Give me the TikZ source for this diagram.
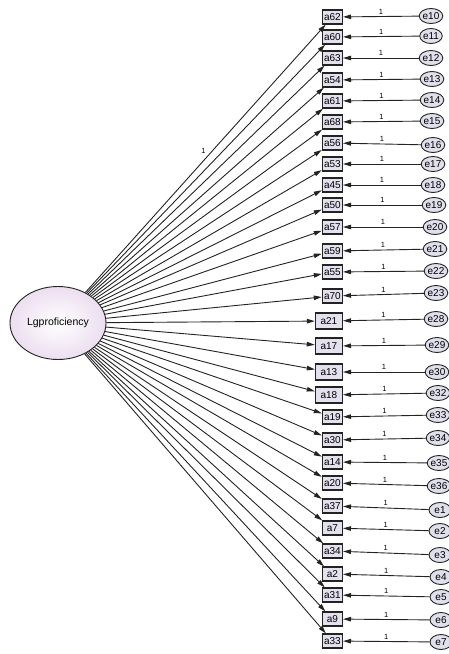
\documentclass[tikz,border=0pt]{standalone}
\usepackage{fontspec}
\setmainfont{Liberation Sans}
\usetikzlibrary{arrows, arrows.meta}
\usetikzlibrary{shapes.geometric}

\definecolor{boxfill}{RGB}{228,224,238}
\definecolor{errfill}{RGB}{224,224,236}
\definecolor{latfill}{RGB}{236,222,240}
\definecolor{linecol}{RGB}{35,35,35}

\tikzset{
  item/.style={rectangle, draw=linecol, line width=1.2pt, fill=boxfill, inner sep=1.5pt,
    minimum width=20pt, minimum height=14pt, anchor=east, font=\fontsize{10}{12}\selectfont},
  wideitem/.style={item, minimum width=27pt, minimum height=16pt},
  err/.style={ellipse, draw=linecol, line width=0.9pt, fill=errfill, inner sep=0pt,
    minimum width=22pt, minimum height=15pt, font=\fontsize{10}{12}\selectfont},
  latent/.style={ellipse, draw=linecol, line width=0.9pt, inner color=white, outer color=latfill,
    minimum width=96pt, minimum height=73pt, inner sep=0pt, font=\fontsize{10.5}{12}\selectfont},
  load/.style={draw=linecol, line width=0.9pt, -{Triangle[length=8pt,width=4.5pt]}},
  lbl/.style={font=\fontsize{7.5}{8}\selectfont, inner sep=2pt}
}

\begin{document}
\begin{tikzpicture}[x=1pt, y=-1pt]
  \useasboundingbox (0,0) rectangle (449,654);

  \node[latent] (L) at (58,323) {Lgproficiency};

  % observed items
  \node[item] (a62) at (343,17) {a62};
  \node[item] (a60) at (343,37) {a60};
  \node[item] (a63) at (343,58) {a63};
  \node[item] (a54) at (343,80) {a54};
  \node[item] (a61) at (343,101) {a61};
  \node[item] (a68) at (343,122) {a68};
  \node[item] (a56) at (343,143) {a56};
  \node[item] (a53) at (343,164) {a53};
  \node[item] (a45) at (343,185) {a45};
  \node[item] (a50) at (343,205) {a50};
  \node[item] (a57) at (343,227) {a57};
  \node[item] (a59) at (343,251) {a59};
  \node[item] (a55) at (343,272) {a55};
  \node[item] (a70) at (343,296) {a70};
  \node[wideitem] (a21) at (343,321) {a21};
  \node[wideitem] (a17) at (343,346) {a17};
  \node[wideitem] (a13) at (343,372) {a13};
  \node[wideitem] (a18) at (343,395) {a18};
  \node[item] (a19) at (343,417) {a19};
  \node[item] (a30) at (343,440) {a30};
  \node[item] (a14) at (343,462) {a14};
  \node[item] (a20) at (343,483) {a20};
  \node[item] (a37) at (343,506) {a37};
  \node[item] (a7) at (343,528) {a7};
  \node[item] (a34) at (343,551) {a34};
  \node[item] (a2) at (343,574) {a2};
  \node[item] (a31) at (343,595) {a31};
  \node[item] (a9) at (343,619) {a9};
  \node[item] (a33) at (343,641) {a33};

  % error terms
  \node[err] (e10) at (431,16) {e10};
  \node[err] (e11) at (431,36) {e11};
  \node[err] (e12) at (431,58) {e12};
  \node[err] (e13) at (432,79) {e13};
  \node[err] (e14) at (432,100) {e14};
  \node[err] (e15) at (432,121) {e15};
  \node[err] (e16) at (433,145) {e16};
  \node[err] (e17) at (433,164) {e17};
  \node[err] (e18) at (433,185) {e18};
  \node[err] (e19) at (434,205) {e19};
  \node[err] (e20) at (435,227) {e20};
  \node[err] (e21) at (435,249) {e21};
  \node[err] (e22) at (436,271) {e22};
  \node[err] (e23) at (436,293) {e23};
  \node[err] (e28) at (436,319) {e28};
  \node[err] (e29) at (437,345) {e29};
  \node[err] (e30) at (437,372) {e30};
  \node[err] (e32) at (438,393) {e32};
  \node[err] (e33) at (438,415) {e33};
  \node[err] (e34) at (438,438) {e34};
  \node[err] (e35) at (439,463) {e35};
  \node[err] (e36) at (439,486) {e36};
  \node[err] (e1) at (440,510) {e1};
  \node[err] (e2) at (440,531) {e2};
  \node[err] (e3) at (440,555) {e3};
  \node[err] (e4) at (441,577) {e4};
  \node[err] (e5) at (441,597) {e5};
  \node[err] (e6) at (441,620) {e6};
  \node[err] (e7) at (441,642) {e7};

  % loadings
  \draw[load] (L) -- node[pos=0.51, above left, lbl] {1} (a62);
  \draw[load] (L) -- (a60);
  \draw[load] (L) -- (a63);
  \draw[load] (L) -- (a54);
  \draw[load] (L) -- (a61);
  \draw[load] (L) -- (a68);
  \draw[load] (L) -- (a56);
  \draw[load] (L) -- (a53);
  \draw[load] (L) -- (a45);
  \draw[load] (L) -- (a50);
  \draw[load] (L) -- (a57);
  \draw[load] (L) -- (a59);
  \draw[load] (L) -- (a55);
  \draw[load] (L) -- (a70);
  \draw[load] (L) -- (a21);
  \draw[load] (L) -- (a17);
  \draw[load] (L) -- (a13);
  \draw[load] (L) -- (a18);
  \draw[load] (L) -- (a19);
  \draw[load] (L) -- (a30);
  \draw[load] (L) -- (a14);
  \draw[load] (L) -- (a20);
  \draw[load] (L) -- (a37);
  \draw[load] (L) -- (a7);
  \draw[load] (L) -- (a34);
  \draw[load] (L) -- (a2);
  \draw[load] (L) -- (a31);
  \draw[load] (L) -- (a9);
  \draw[load] (L) -- (a33);

  % error paths
  \draw[load] (e10) -- node[above, lbl] {1} (a62);
  \draw[load] (e11) -- node[above, lbl] {1} (a60);
  \draw[load] (e12) -- node[above, lbl] {1} (a63);
  \draw[load] (e13) -- node[above, lbl] {1} (a54);
  \draw[load] (e14) -- node[above, lbl] {1} (a61);
  \draw[load] (e15) -- node[above, lbl] {1} (a68);
  \draw[load] (e16) -- node[above, lbl] {1} (a56);
  \draw[load] (e17) -- node[above, lbl] {1} (a53);
  \draw[load] (e18) -- node[above, lbl] {1} (a45);
  \draw[load] (e19) -- node[above, lbl] {1} (a50);
  \draw[load] (e20) -- node[above, lbl] {1} (a57);
  \draw[load] (e21) -- node[above, lbl] {1} (a59);
  \draw[load] (e22) -- node[above, lbl] {1} (a55);
  \draw[load] (e23) -- node[above, lbl] {1} (a70);
  \draw[load] (e28) -- node[above, lbl] {1} (a21);
  \draw[load] (e29) -- node[above, lbl] {1} (a17);
  \draw[load] (e30) -- node[above, lbl] {1} (a13);
  \draw[load] (e32) -- node[above, lbl] {1} (a18);
  \draw[load] (e33) -- node[above, lbl] {1} (a19);
  \draw[load] (e34) -- node[above, lbl] {1} (a30);
  \draw[load] (e35) -- node[above, lbl] {1} (a14);
  \draw[load] (e36) -- node[above, lbl] {1} (a20);
  \draw[load] (e1) -- node[above, lbl] {1} (a37);
  \draw[load] (e2) -- node[above, lbl] {1} (a7);
  \draw[load] (e3) -- node[above, lbl] {1} (a34);
  \draw[load] (e4) -- node[above, lbl] {1} (a2);
  \draw[load] (e5) -- node[above, lbl] {1} (a31);
  \draw[load] (e6) -- node[above, lbl] {1} (a9);
  \draw[load] (e7) -- node[above, lbl] {1} (a33);
\end{tikzpicture}
\end{document}
